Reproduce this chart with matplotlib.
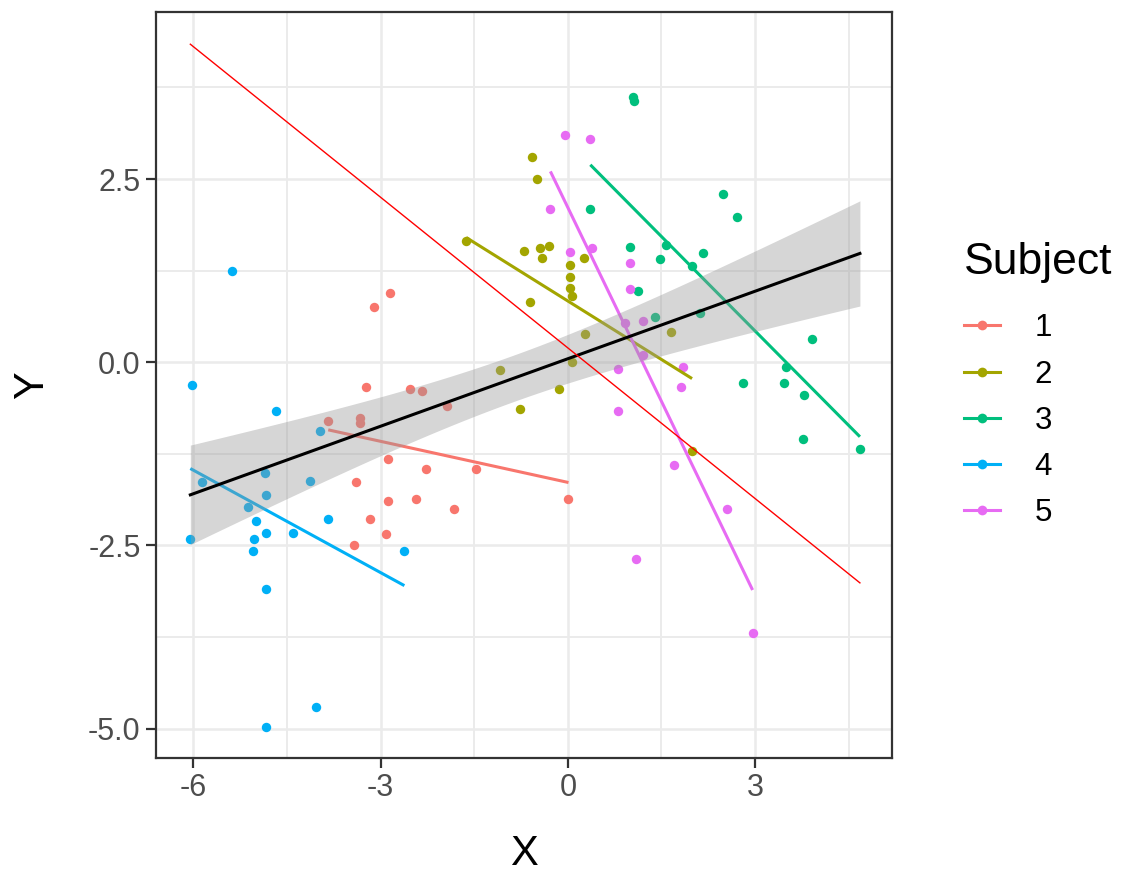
import numpy as np
import matplotlib.pyplot as plt
from matplotlib.lines import Line2D

plt.rcParams['font.family'] = ['Liberation Sans', 'DejaVu Sans']
plt.rcParams['axes.unicode_minus'] = False

subjects = ['1', '2', '3', '4', '5']
colors = ['#F8766D', '#A3A500', '#00BF7D', '#00B0F6', '#E76BF3']

x1 = [-2.85, -3.10, -3.23, -2.53, -2.33, -1.94, -3.84, -3.33, -3.33, -2.88,
      -2.27, -1.47, -3.39, -2.89, -2.43, -1.82, -3.17, -2.91, -3.42, 0.01]
y1 = [0.94, 0.75, -0.34, -0.37, -0.39, -0.59, -0.80, -0.76, -0.83, -1.32,
      -1.46, -1.46, -1.64, -1.89, -1.86, -2.00, -2.14, -2.35, -2.49, -1.86]

x2 = [-0.57, -0.50, -1.63, -0.70, -0.44, -0.31, -0.41, 0.26, 0.04, 0.04,
      0.04, 0.06, -0.60, 0.27, 1.65, 0.07, -0.15, -0.76, 1.99, -1.08]
y2 = [2.80, 2.50, 1.66, 1.52, 1.56, 1.58, 1.42, 1.42, 1.33, 1.17,
      1.01, 0.91, 0.82, 0.38, 0.41, 0.00, -0.36, -0.64, -1.21, -0.11]

x3 = [1.04, 1.06, 0.36, 2.48, 2.71, 1.00, 1.58, 1.48, 2.16, 1.99,
      1.13, 1.39, 2.12, 3.92, 3.50, 2.80, 3.47, 3.79, 3.76, 4.68]
y3 = [3.62, 3.57, 2.09, 2.29, 1.98, 1.57, 1.60, 1.41, 1.49, 1.31,
      0.97, 0.62, 0.67, 0.32, -0.07, -0.28, -0.28, -0.44, -1.05, -1.18]

x4 = [-5.375, -6.03, -4.675, -3.97, -4.86, -4.13, -5.86, -4.84, -5.12, -5.00,
      -3.84, -4.83, -4.41, -5.03, -6.05, -5.05, -2.62, -4.83, -4.03, -4.83]
y4 = [1.25, -0.31, -0.66, -0.94, -1.51, -1.62, -1.63, -1.81, -1.97, -2.17,
      -2.14, -2.33, -2.33, -2.41, -2.41, -2.58, -2.58, -3.09, -4.71, -4.98]

x5 = [-0.05, 0.36, -0.28, 0.04, 0.38, 1.00, 1.00, 0.91, 1.20, 1.20,
      0.81, 1.84, 1.81, 0.81, 1.70, 2.55, 1.09, 2.96]
y5 = [3.10, 3.05, 2.09, 1.50, 1.56, 1.35, 1.00, 0.54, 0.57, 0.10,
      -0.09, -0.06, -0.34, -0.66, -1.40, -2.00, -2.69, -3.70]

# thin red reference line (end points)
ref_x = [-6.05, 4.68]
ref_y = [4.34, -3.01]

xs = [x1, x2, x3, x4, x5]
ys = [y1, y2, y3, y4, y5]

fig = plt.figure(figsize=(11.38, 8.74), dpi=100)
ax = fig.add_axes([0.1371, 0.1327, 0.6465, 0.8536])

# points
for x, y, c in zip(xs, ys, colors):
    ax.scatter(x, y, s=46, color=c, linewidths=0, zorder=3)

# per subject lm fits
for x, y, c in zip(xs, ys, colors):
    x = np.array(x); y = np.array(y)
    b, a = np.polyfit(x, y, 1)
    xx = np.array([x.min(), x.max()])
    ax.plot(xx, a + b * xx, color=c, lw=2.2, zorder=4, solid_capstyle='butt')

# overall lm fit with 95% band
xa = np.concatenate([np.array(x) for x in xs])
ya = np.concatenate([np.array(y) for y in ys])
n = len(xa)
b, a = np.polyfit(xa, ya, 1)
resid = ya - (a + b * xa)
s = np.sqrt(np.sum(resid ** 2) / (n - 2))
xg = np.linspace(xa.min(), xa.max(), 80)
se = s * np.sqrt(1 / n + (xg - xa.mean()) ** 2 / np.sum((xa - xa.mean()) ** 2))
t = 1.985  # t(0.975, df ~ 96)
fit = a + b * xg
ax.fill_between(xg, fit - t * se, fit + t * se, color='#999999', alpha=0.4,
                linewidth=0, zorder=5)
ax.plot(xg, fit, color='black', lw=2.2, zorder=6)

ax.plot(ref_x, ref_y, color='red', lw=1.0, zorder=7)

ax.set_xlim(-6.60, 5.19)
ax.set_ylim(-5.40, 4.78)
ax.set_xticks([-6, -3, 0, 3])
ax.set_xticklabels(['-6', '-3', '0', '3'])
ax.set_xticks([-4.5, -1.5, 1.5, 4.5], minor=True)
ax.set_yticks([-5, -2.5, 0, 2.5])
ax.set_yticklabels(['-5.0', '-2.5', '0.0', '2.5'])
ax.set_yticks([-3.75, -1.25, 1.25, 3.75], minor=True)

ax.grid(which='major', color='#EBEBEB', lw=1.8)
ax.grid(which='minor', color='#EBEBEB', lw=1.4)
ax.set_axisbelow(True)
for sp in ax.spines.values():
    sp.set_color('#333333')
    sp.set_linewidth(1.6)
ax.tick_params(which='major', length=7, width=1.6, color='#333333',
               labelsize=22, labelcolor='#4D4D4D', pad=4)
ax.tick_params(which='minor', length=0)

ax.set_xlabel('X', fontsize=30, labelpad=22)
ax.set_ylabel('Y', fontsize=30, labelpad=26)

handles = [Line2D([], [], color=c, lw=2.2, marker='o', ms=7, mew=0)
           for c in colors]
leg = ax.legend(handles, subjects, title='Subject', loc='center left',
                bbox_to_anchor=(1.06, 0.5), frameon=False, fontsize=22.5,
                title_fontsize=32, handlelength=1.15, labelspacing=0.52,
                handletextpad=1.1, alignment='left')
leg._legend_box.sep = 22

plt.savefig('out.png', dpi=100)
